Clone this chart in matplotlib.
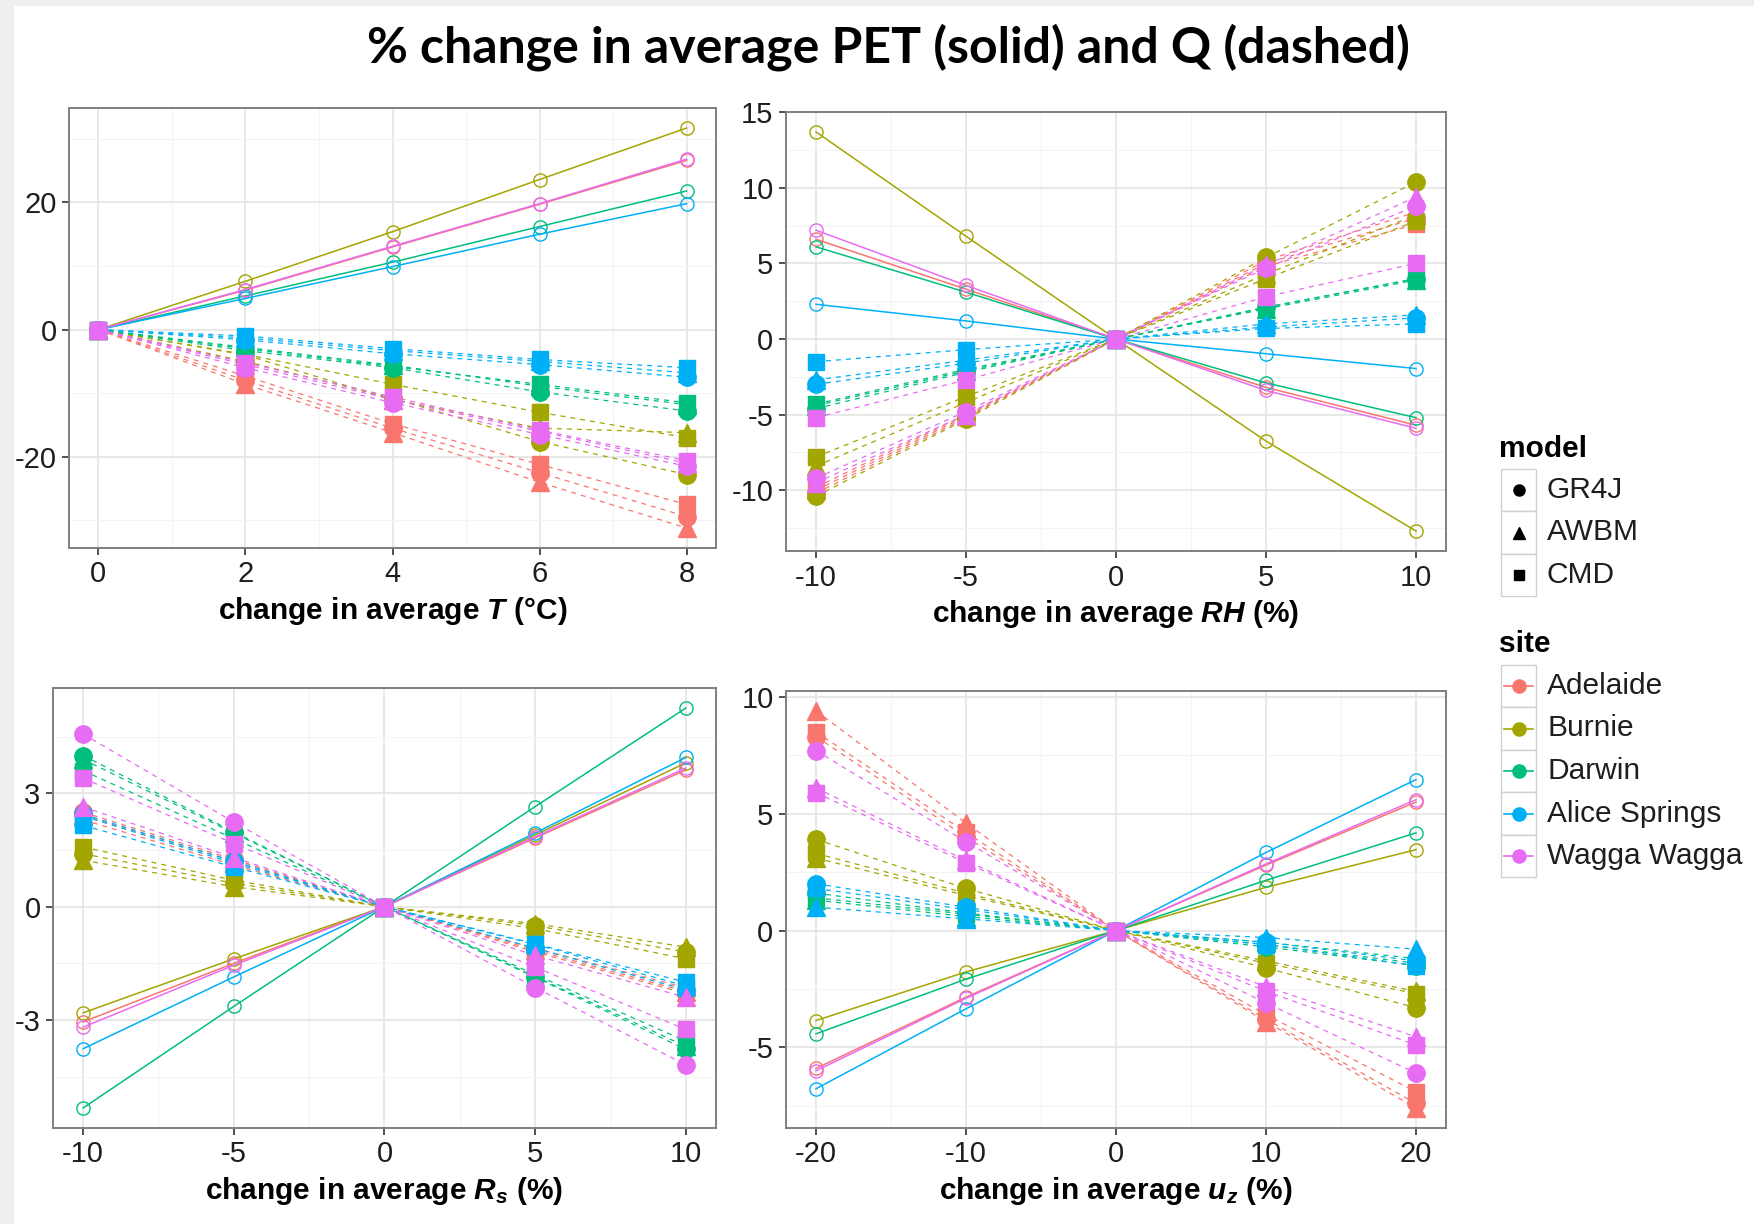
import matplotlib
matplotlib.use('Agg')
import matplotlib.pyplot as plt
import matplotlib.ticker as ticker
from matplotlib.patches import Rectangle


# ------------------------------------------------------------
#  Data
# ------------------------------------------------------------
SITES  = ['Adelaide', 'Burnie', 'Darwin', 'Alice Springs', 'Wagga Wagga']
COLORS = ['#F8766D', '#A3A500', '#00BF7D', '#00B0F6', '#E76BF3']
MODELS = ['GR4J', 'AWBM', 'CMD']
MARKERS = ['o', '^', 's']

# panel 1: change in T (degC)
T_X = [0, 2, 4, 6, 8]
T_PET = [
    [0, 6.2, 13.0, 19.7, 26.6],
    [0, 7.6, 15.4, 23.6, 31.7],
    [0, 5.3, 10.6, 16.2, 21.8],
    [0, 4.9, 9.9, 15.0, 19.8],
    [0, 6.3, 13.1, 19.8, 26.8],
]
T_GR4J = [
    [0, -8.0, -15.5, -22.5, -29.4],
    [0, -5.0, -10.8, -17.6, -22.8],
    [0, -3.3, -6.0, -9.8, -12.8],
    [0, -1.6, -3.8, -5.5, -7.5],
    [0, -6.0, -11.5, -16.5, -21.5],
]
T_AWBM = [
    [0, -8.6, -16.2, -24.0, -31.2],
    [0, -4.0, -11.0, -15.5, -16.2],
    [0, -2.8, -5.6, -8.9, -11.8],
    [0, -1.3, -3.3, -5.0, -6.8],
    [0, -5.5, -11.0, -16.0, -21.0],
]
T_CMD = [
    [0, -7.3, -14.8, -21.2, -27.5],
    [0, -3.9, -8.6, -13.0, -17.0],
    [0, -3.0, -5.8, -8.6, -11.5],
    [0, -1.0, -3.0, -4.7, -6.0],
    [0, -5.2, -10.6, -15.8, -20.6],
]

# panel 2: change in RH (%)
RH_X = [-10, -5, 0, 5, 10]
RH_PET = [
    [6.6, 3.3, 0, -3.2, -5.7],
    [13.7, 6.8, 0, -6.75, -12.7],
    [6.1, 3.1, 0, -2.9, -5.2],
    [2.3, 1.2, 0, -0.97, -1.95],
    [7.2, 3.55, 0, -3.4, -5.9],
]
RH_GR4J = [
    [-10.2, -5.2, 0, 5.0, 8.0],
    [-10.4, -5.3, 0, 5.4, 10.4],
    [-4.6, -2.2, 0, 2.1, 4.0],
    [-3.0, -1.6, 0, 0.8, 1.4],
    [-9.2, -4.8, 0, 4.7, 8.8],
]
RH_AWBM = [
    [-10.0, -5.1, 0, 5.2, 8.4],
    [-8.4, -4.2, 0, 4.3, 8.2],
    [-4.4, -2.1, 0, 2.0, 3.9],
    [-2.7, -1.4, 0, 1.0, 1.6],
    [-9.5, -5.0, 0, 4.9, 9.4],
]
RH_CMD = [
    [-9.8, -5.0, 0, 4.8, 7.6],
    [-7.8, -3.8, 0, 4.0, 7.8],
    [-4.3, -2.0, 0, 2.1, 4.0],
    [-1.5, -0.7, 0, 0.7, 1.0],
    [-5.2, -2.7, 0, 2.8, 5.0],
]

# panel 3: change in Rs (%)
RS_X = [-10, -5, 0, 5, 10]
RS_PET = [
    [-3.05, -1.5, 0, 1.82, 3.62],
    [-2.81, -1.38, 0, 1.9, 3.81],
    [-5.33, -2.64, 0, 2.65, 5.26],
    [-3.76, -1.86, 0, 1.95, 3.95],
    [-3.19, -1.55, 0, 1.85, 3.67],
]
RS_GR4J = [
    [2.5, 1.25, 0, -1.2, -2.3],
    [1.4, 0.62, 0, -0.5, -1.2],
    [4.0, 1.98, 0, -1.87, -3.78],
    [2.45, 1.2, 0, -1.1, -2.2],
    [4.57, 2.24, 0, -2.14, -4.19],
]
RS_AWBM = [
    [2.42, 1.2, 0, -1.15, -2.25],
    [1.23, 0.53, 0, -0.45, -1.07],
    [3.9, 1.95, 0, -1.85, -3.7],
    [2.4, 1.15, 0, -1.0, -2.1],
    [2.64, 1.3, 0, -1.29, -2.4],
]
RS_CMD = [
    [2.3, 1.1, 0, -1.1, -2.15],
    [1.58, 0.70, 0, -0.58, -1.38],
    [3.6, 1.8, 0, -1.8, -3.56],
    [2.15, 1.05, 0, -0.98, -2.0],
    [3.40, 1.67, 0, -1.6, -3.25],
]

# panel 4: change in uz (%)
UZ_X = [-20, -10, 0, 10, 20]
UZ_PET = [
    [-5.9, -2.85, 0, 2.8, 5.5],
    [-3.85, -1.77, 0, 1.85, 3.46],
    [-4.42, -2.08, 0, 2.15, 4.18],
    [-6.77, -3.35, 0, 3.34, 6.46],
    [-6.0, -2.9, 0, 2.85, 5.6],
]
UZ_GR4J = [
    [8.3, 4.0, 0, -3.8, -7.4],
    [3.9, 1.8, 0, -1.6, -3.3],
    [1.6, 0.75, 0, -0.7, -1.5],
    [2.0, 1.0, 0, -0.5, -1.3],
    [7.7, 3.8, 0, -3.1, -6.1],
]
UZ_AWBM = [
    [9.4, 4.6, 0, -3.9, -7.6],
    [3.1, 1.5, 0, -1.3, -2.6],
    [1.3, 0.6, 0, -0.5, -1.2],
    [1.0, 0.5, 0, -0.3, -0.8],
    [6.1, 3.0, 0, -2.4, -4.55],
]
UZ_CMD = [
    [8.5, 4.2, 0, -3.6, -6.9],
    [3.3, 1.6, 0, -1.4, -2.7],
    [1.4, 0.7, 0, -0.6, -1.4],
    [1.8, 0.9, 0, -0.6, -1.5],
    [5.9, 2.9, 0, -2.6, -4.9],
]


# ------------------------------------------------------------
#  Style
# ------------------------------------------------------------
plt.rcParams['font.family'] = ['Liberation Sans', 'DejaVu Sans']
plt.rcParams['mathtext.fontset'] = 'custom'
plt.rcParams['mathtext.it'] = 'Liberation Sans:bold:italic'
plt.rcParams['mathtext.rm'] = 'Liberation Sans:bold'
plt.rcParams['mathtext.bf'] = 'Liberation Sans:bold'

W, H = 1754, 1224
TICK_SIZE = 21
LABEL_SIZE = 21.5
LEGEND_SIZE = 21.5


def draw_panel(ax, xs, pet, gr4j, awbm, cmd, xlabel, xmaj, ymaj):
    # PET: solid lines with open circles
    for i, c in enumerate(COLORS):
        ax.plot(xs, pet[i], color=c, lw=1.1, zorder=3)
        ax.plot(xs, pet[i], ls='none', marker='o', ms=9.5, mfc='none',
                mec=c, mew=1.0, zorder=3)
    # Q: dashed lines with filled markers
    q_sets = [gr4j, awbm, cmd]
    for i, c in enumerate(COLORS):
        for q in q_sets:
            ax.plot(xs, q[i], color=c, lw=0.9, ls=(0, (4, 4)), zorder=4)
    for i, c in enumerate(COLORS):
        for m, q in zip(MARKERS, q_sets):
            ms = {'o': 12.5, '^': 13, 's': 11.5}[m]
            ax.plot(xs, q[i], ls='none', marker=m, ms=ms, color=c,
                    mec=c, zorder=5)

    ax.xaxis.set_major_locator(ticker.MultipleLocator(xmaj))
    ax.xaxis.set_minor_locator(ticker.MultipleLocator(xmaj / 2))
    ax.yaxis.set_major_locator(ticker.MultipleLocator(ymaj))
    ax.yaxis.set_minor_locator(ticker.MultipleLocator(ymaj / 2))
    ax.grid(which='major', color='#E6E6E6', lw=1.3, zorder=0)
    ax.grid(which='minor', color='#F3F3F3', lw=0.8, zorder=0)
    ax.set_axisbelow(True)
    ax.tick_params(which='major', length=5, width=1.2, color='#333333',
                   labelsize=TICK_SIZE, labelcolor='#1E1E1E', pad=4)
    ax.tick_params(which='minor', length=0)
    for s in ax.spines.values():
        s.set_color('#7F7F7F')
        s.set_linewidth(1.4)
    ax.set_xlabel(xlabel, fontsize=LABEL_SIZE, fontweight='bold', labelpad=5)
    ax.yaxis.set_major_formatter(ticker.FuncFormatter(lambda v, p: f'{v:g}'))
    ax.xaxis.set_major_formatter(ticker.FuncFormatter(lambda v, p: f'{v:g}'))


def px_box(l, r, t, b):
    return [l / W, 1 - b / H, (r - l) / W, (b - t) / H]


fig = plt.figure(figsize=(W / 100, H / 100), dpi=100, facecolor='white')

# light grey frame strips (slide background)
bg = fig.add_axes([0, 0, 1, 1], zorder=-5)
bg.set_xlim(0, W)
bg.set_ylim(H, 0)
bg.axis('off')
bg.add_patch(Rectangle((0, 0), 14, H, color='#EFEFEF', lw=0))
bg.add_patch(Rectangle((0, 0), W, 6, color='#EFEFEF', lw=0))

ax1 = fig.add_axes(px_box(69, 716, 108, 548))
ax2 = fig.add_axes(px_box(786, 1446, 112, 551))
ax3 = fig.add_axes(px_box(53, 716, 688, 1128))
ax4 = fig.add_axes(px_box(786, 1446, 691, 1128))

draw_panel(ax1, T_X, T_PET, T_GR4J, T_AWBM, T_CMD,
           'change in average $T$ (°C)', 2, 20)
draw_panel(ax2, RH_X, RH_PET, RH_GR4J, RH_AWBM, RH_CMD,
           'change in average $RH$ (%)', 5, 5)
draw_panel(ax3, RS_X, RS_PET, RS_GR4J, RS_AWBM, RS_CMD,
           'change in average $R_s$ (%)', 5, 3)
draw_panel(ax4, UZ_X, UZ_PET, UZ_GR4J, UZ_AWBM, UZ_CMD,
           'change in average $u_z$ (%)', 10, 5)

fig.text(888 / W, 1 - 47 / H, '% change in average PET (solid) and Q (dashed)',
         ha='center', va='center', fontsize=36, fontweight='bold',
         family=['Lato', 'DejaVu Sans'])

# ------------------------------------------------------------
#  Legends (drawn in pixel coordinates)
# ------------------------------------------------------------
lg = fig.add_axes([0, 0, 1, 1], zorder=10)
lg.set_xlim(0, W)
lg.set_ylim(H, 0)
lg.axis('off')

KEY_L, KEY_W, KEY_H = 1501, 35, 42.5
LABEL_X = 1547

lg.text(1499, 449, 'model', fontsize=LEGEND_SIZE, fontweight='bold', va='center')
for k, (name, m) in enumerate(zip(MODELS, MARKERS)):
    yc = 490 + k * KEY_H
    lg.add_patch(Rectangle((KEY_L, yc - KEY_H / 2), KEY_W, KEY_H,
                           fc='white', ec='#D0D0D0', lw=1.0))
    lg.plot([KEY_L + KEY_W / 2], [yc], marker=m, color='black',
            ms=8 if m != 's' else 7, ls='none')
    lg.text(LABEL_X, yc, name, fontsize=LEGEND_SIZE, va='center', color='#1E1E1E')

lg.text(1499, 644, 'site', fontsize=LEGEND_SIZE, fontweight='bold', va='center')
for k, (name, c) in enumerate(zip(SITES, COLORS)):
    yc = 686 + k * KEY_H
    lg.add_patch(Rectangle((KEY_L, yc - KEY_H / 2), KEY_W, KEY_H,
                           fc='white', ec='#D0D0D0', lw=1.0))
    lg.plot([KEY_L + 3, KEY_L + KEY_W - 3], [yc, yc], color=c, lw=1.2)
    lg.plot([KEY_L + KEY_W / 2], [yc], marker='o', color=c, ms=9.5, ls='none')
    lg.text(LABEL_X, yc, name, fontsize=LEGEND_SIZE, va='center', color='#1E1E1E')

fig.savefig('out.png', dpi=100, facecolor='white')
